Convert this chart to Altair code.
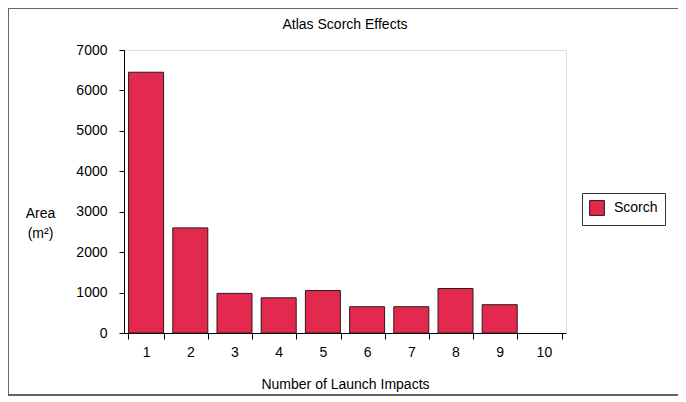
import altair as alt
import pandas as pd

categories = ["1", "2", "3", "4", "5", "6", "7", "8", "9", "10"]
bar_categories = ["1", "2", "3", "4", "5", "6", "7", "8", "9"]
scorch_area = [6450, 2600, 980, 870, 1050, 650, 650, 1100, 700]
series_name = "Scorch"
chart_title = "Atlas Scorch Effects"

df = pd.DataFrame({"impacts": bar_categories, "area": scorch_area, "series": series_name})

FONT = "Liberation Sans"
FS = 14

bars = alt.Chart(df).mark_bar(stroke="#2a1a1a", strokeWidth=1, size=35).encode(
    x=alt.X("impacts:N", scale=alt.Scale(domain=categories, paddingInner=0.2, paddingOuter=0.1),
            sort=categories,
            axis=alt.Axis(title="Number of Launch Impacts", labelAngle=0, tickBand="extent",
                          domainColor="black", tickColor="black", tickSize=6,
                          labelColor="black", labelFont=FONT, labelFontSize=FS, labelPadding=6,
                          titleFont=FONT, titleFontSize=FS, titleFontWeight="normal",
                          titleColor="black", titlePadding=18)),
    y=alt.Y("area:Q", scale=alt.Scale(domain=[0, 7000]),
            axis=alt.Axis(title=["Area", "(m²)"], titleAngle=0, titleX=-84, titleY=163,
                          titleAlign="center", titleBaseline="middle", format="d",
                          values=[0, 1000, 2000, 3000, 4000, 5000, 6000, 7000], grid=False,
                          domainColor="black", tickColor="black", tickSize=5,
                          labelColor="black", labelFont=FONT, labelFontSize=FS, labelPadding=12,
                          titleFont=FONT, titleFontSize=FS, titleFontWeight="normal",
                          titleColor="black", titleLineHeight=20)),
    color=alt.Color("series:N", scale=alt.Scale(domain=[series_name], range=["#E32A4E"]),
                    legend=alt.Legend(title=None, orient="none", legendX=458, legendY=143,
                                      strokeColor="#333", padding=7, symbolType="square",
                                      symbolSize=220, symbolStrokeColor="#2a1a1a",
                                      symbolStrokeWidth=1, labelFont=FONT, labelFontSize=FS,
                                      labelColor="black", labelOffset=9)),
)

frame = alt.Chart(df).mark_rect(fill=None, stroke="#666", strokeWidth=1).encode(
    x=alt.value(-116), x2=alt.value(561), y=alt.value(-42), y2=alt.value(345)
)

title_text = alt.Chart(pd.DataFrame({"t": [chart_title]})).mark_text(
    font=FONT, fontSize=FS, color="black", align="center", baseline="middle"
).encode(x=alt.value(221), y=alt.value(-25), text="t:N")

chart = alt.layer(frame, bars, title_text).properties(
    width=442, height=283,
    autosize=alt.AutoSizeParams(type="none"),
    padding={"left": 116, "top": 42, "right": 112, "bottom": 64},
).configure_view(stroke=None).configure(background="white")

chart.save("out.html", embed_options={"renderer": "svg", "actions": False})
